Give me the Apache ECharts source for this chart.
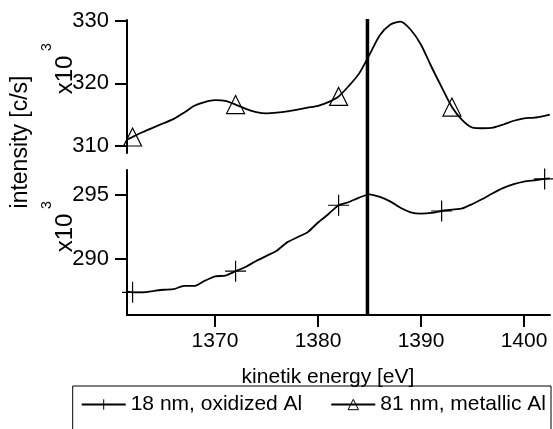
<!DOCTYPE html>
<html><head><meta charset="utf-8">
<script src="https://cdn.jsdelivr.net/npm/echarts@6/dist/echarts.min.js"></script>
<style>html,body{margin:0;padding:0;background:#fff}#c{width:553px;height:429px}</style>
</head><body><div id="c"></div>
<script>
// kinetic energy grid [eV]
const energy = [1361.5,1362,1363,1364,1365,1366,1367,1368,1369,1370,1371,1372,1373,1374,1375,1376,1377,1378,1379,1380,1381,1382,1383,1384,1385,1386,1387,1388,1389,1390,1391,1392,1393,1394,1395,1396,1397,1398,1399,1400,1401,1402,1402.5];
// 81 nm, metallic Al  (x10^3 c/s)
const metallic81 = [311.0,311.4,312.2,312.9,313.6,314.3,315.3,316.4,317.0,317.3,317.2,316.6,315.9,315.4,315.2,315.3,315.5,315.8,316.1,316.4,317.0,317.9,319.6,321.6,324.6,327.7,329.4,329.9,328.6,326.2,322.7,319.4,316.2,314.1,312.9,312.8,312.9,313.4,314.0,314.4,314.5,314.8,315.0];
// 18 nm, oxidized Al (x10^3 c/s)
const oxidized18 = [287.45,287.4,287.4,287.5,287.6,287.65,287.9,287.9,288.3,288.65,288.7,289.05,289.4,289.85,290.25,290.65,291.3,291.7,292.1,292.85,293.5,294.2,294.45,294.8,295.05,294.85,294.5,294.0,293.65,293.55,293.6,293.75,293.85,293.95,294.3,294.7,295.15,295.55,295.85,296.05,296.15,296.25,296.3];
const markers81 = [1362,1372,1382,1393];
const markers18 = [1362,1372,1382,1392,1402];
const xTicks = [1370,1380,1390,1400];
const topTicks = [310,320,330];
const bottomTicks = [290,295];
const edgeEnergy = 1384.8;
const names = ['18 nm, oxidized Al','81 nm, metallic Al'];

const FONT = 'Liberation Sans, Arial, sans-serif';
const X_MIN = 1361.46, X_MAX = 1402.52;

function build(vals, marks, size) {
  const set = new Set(marks);
  return energy.map((e, i) => ({ value: [e, vals[i]], symbolSize: set.has(e) ? size : 0 }));
}
const plain = v => String(v);

const axisLineStyle = { color: '#000', width: 2 };
const chart = echarts.init(document.getElementById('c'), null, { renderer: 'canvas' });
chart.setOption({
  animation: false,
  backgroundColor: '#fff',
  textStyle: { fontFamily: FONT },
  grid: [
    { left: 127, right: 3, top: 20, height: 133 },
    { left: 127, right: 3, top: 170, height: 145 },
    { left: 127, right: 3, top: 19, height: 296 }
  ],
  xAxis: [
    { gridIndex: 0, type: 'value', min: X_MIN, max: X_MAX, show: false },
    { gridIndex: 1, type: 'value', min: X_MIN, max: X_MAX,
      axisLine: { show: true, onZero: false, lineStyle: axisLineStyle },
      axisTick: { show: true, length: 12, lineStyle: { width: 2, color: '#000' }, customValues: xTicks },
      axisLabel: { show: true, margin: 16, fontSize: 21, color: '#000', fontFamily: FONT, customValues: xTicks, formatter: plain },
      splitLine: { show: false } },
    { gridIndex: 2, type: 'value', min: X_MIN, max: X_MAX, show: false }
  ],
  yAxis: [
    { gridIndex: 0, type: 'value', min: 308.83, max: 330.16,
      axisLine: { show: true, onZero: false, lineStyle: axisLineStyle },
      axisTick: { show: true, length: 12, lineStyle: { width: 2, color: '#000' }, customValues: topTicks },
      axisLabel: { show: true, margin: 18, fontSize: 22, color: '#000', fontFamily: FONT, customValues: topTicks, formatter: plain },
      splitLine: { show: false } },
    { gridIndex: 1, type: 'value', min: 285.63, max: 296.95,
      axisLine: { show: true, onZero: false, lineStyle: axisLineStyle },
      axisTick: { show: true, length: 12, lineStyle: { width: 2, color: '#000' }, customValues: bottomTicks },
      axisLabel: { show: true, margin: 18, fontSize: 22, color: '#000', fontFamily: FONT, customValues: bottomTicks, formatter: plain },
      splitLine: { show: false } },
    { gridIndex: 2, type: 'value', min: 0, max: 1, show: false }
  ],
  legend: {
    data: names, right: 2, top: 386, orient: 'horizontal',
    itemWidth: 44, itemHeight: 13, itemGap: 28,
    padding: [8, 5, 16, 8], borderColor: '#000', borderWidth: 1,
    textStyle: { fontSize: 21, color: '#000', fontFamily: FONT },
    itemStyle: { borderWidth: 1 }
  },
  series: [
    { name: names[0], type: 'line', xAxisIndex: 1, yAxisIndex: 1,
      data: build(oxidized18, markers18, 21), smooth: 0.2,
      symbol: 'path://M0,10L20,10M10,0L10,20', symbolKeepAspect: true,
      showSymbol: true, showAllSymbol: true,
      lineStyle: { color: '#000', width: 1.8 },
      itemStyle: { color: 'rgba(0,0,0,0)', borderColor: '#000', borderWidth: 1.2 },
      emphasis: { disabled: true }, silent: true },
    { name: names[1], type: 'line', xAxisIndex: 0, yAxisIndex: 0,
      data: build(metallic81, markers81, 18), smooth: 0.25,
      symbol: 'triangle', showSymbol: true, showAllSymbol: true,
      lineStyle: { color: '#000', width: 1.8 },
      itemStyle: { color: 'rgba(0,0,0,0)', borderColor: '#000', borderWidth: 1.2 },
      emphasis: { disabled: true }, silent: true },
    { name: 'edge', type: 'line', xAxisIndex: 2, yAxisIndex: 2,
      data: [[edgeEnergy, 0], [edgeEnergy, 1]], symbol: 'none',
      lineStyle: { color: '#000', width: 3.5 }, silent: true, z: 5 }
  ],
  graphic: [
    { type: 'text', x: 21, y: 142, rotation: Math.PI / 2,
      style: { text: 'intensity [c/s]', font: '23px ' + FONT, fill: '#000', align: 'center', verticalAlign: 'middle' } },
    { type: 'text', x: 65, y: 75, rotation: Math.PI / 2,
      style: { text: 'x10', font: '24px ' + FONT, fill: '#000', align: 'center', verticalAlign: 'middle' } },
    { type: 'text', x: 47, y: 47, rotation: Math.PI / 2,
      style: { text: '3', font: '14px ' + FONT, fill: '#000', align: 'center', verticalAlign: 'middle' } },
    { type: 'text', x: 65, y: 233, rotation: Math.PI / 2,
      style: { text: 'x10', font: '24px ' + FONT, fill: '#000', align: 'center', verticalAlign: 'middle' } },
    { type: 'text', x: 47, y: 205, rotation: Math.PI / 2,
      style: { text: '3', font: '14px ' + FONT, fill: '#000', align: 'center', verticalAlign: 'middle' } },
    { type: 'text', x: 328, y: 377,
      style: { text: 'kinetik energy [eV]', font: '21px ' + FONT, fill: '#000', align: 'center', verticalAlign: 'middle' } }
  ]
});
</script></body></html>
